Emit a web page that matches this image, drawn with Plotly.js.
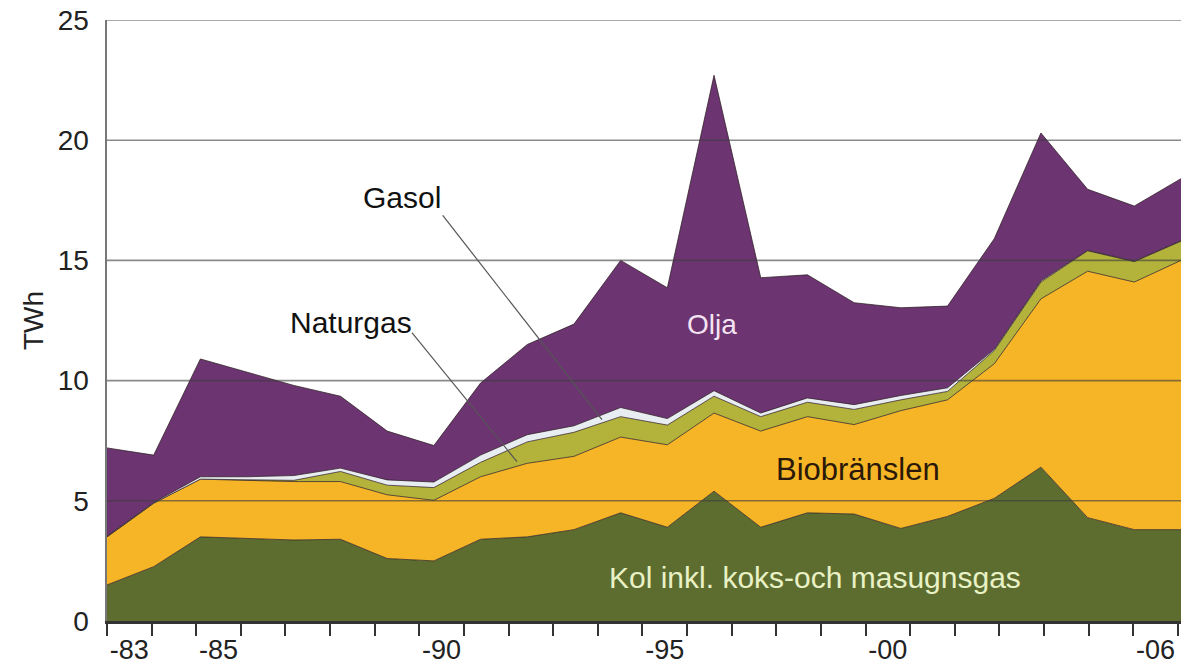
<!DOCTYPE html>
<html>
<head>
<meta charset="utf-8">
<script src="https://cdn.plot.ly/plotly-3.0.1.min.js"></script>
<style>html,body{margin:0;padding:0;background:#fff;}#chart{width:1181px;height:668px;}</style>
</head>
<body>
<div id="chart"></div>
<script>
// Years
const years = [1983,1984,1985,1986,1987,1988,1989,1990,1991,1992,1993,1994,1995,1996,1997,1998,1999,2000,2001,2002,2003,2004,2005,2006];
// TWh per fuel (stacked, bottom to top)
const kol       = [1.50,2.26,3.50,3.45,3.37,3.40,2.60,2.50,3.40,3.50,3.80,4.50,3.90,5.40,3.90,4.50,4.45,3.85,4.35,5.10,6.40,4.30,3.80,3.80];
const bio       = [2.00,2.64,2.40,2.40,2.43,2.40,2.65,2.52,2.60,3.06,3.05,3.15,3.43,3.25,4.00,4.00,3.72,4.90,4.85,5.60,7.00,10.25,10.30,11.20];
const naturgas  = [0.00,0.00,0.00,0.02,0.05,0.42,0.40,0.53,0.60,0.89,1.00,0.85,0.82,0.70,0.60,0.60,0.63,0.45,0.35,0.55,0.70,0.85,0.85,0.80];
const gasol     = [0.03,0.03,0.10,0.13,0.20,0.14,0.22,0.23,0.30,0.30,0.27,0.38,0.27,0.23,0.15,0.18,0.20,0.18,0.15,0.05,0.05,0.02,0.02,0.02];
const olja      = [3.67,1.97,4.90,4.35,3.75,2.99,2.03,1.52,3.00,3.75,4.23,6.12,5.44,13.12,5.63,5.12,4.24,3.65,3.40,4.60,6.15,2.54,2.29,2.58];

const tickLabelYears = [1983,1985,1990,1995,2000,2006];
const tickLabels = ['-83','-85','-90','-95','-00','-06'];
const yTicks = [0,5,10,15,20,25];

const tickStep = 0.9555; // category boundary spacing on the axis
const labelPos = tickLabelYears.map(y => 1983 + (y - 1983 + 0.5) * tickStep);

const outline = 'rgba(45,30,35,0.75)';
function area(name, vals, color) {
  return {x: years, y: vals, name: name, type: 'scatter', mode: 'lines',
          stackgroup: 'one', fillcolor: color,
          line: {color: outline, width: 1}, hoverinfo: 'x+y+name'};
}
const traces = [
  area('Kol inkl. koks-och masugnsgas', kol, '#5d6d2f'),
  area('Biobränslen', bio, '#f6b526'),
  area('Naturgas', naturgas, '#b3b23a'),
  area('Gasol', gasol, '#e8edf1'),
  area('Olja', olja, '#6c3572')
];

const font = 'Liberation Sans, Arial, Helvetica, sans-serif';
const shapes = yTicks.filter(v => v > 0).map(v => ({
  type: 'line', xref: 'paper', yref: 'y', x0: 0, x1: 1, y0: v, y1: v,
  layer: 'above', line: {color: 'rgba(60,60,60,0.6)', width: 1.6}
}));
// leader lines for labels
shapes.push({type:'line', xref:'x', yref:'y', x0:1990.19, y0:16.875, x1:1993.6, y1:8.375, layer:'above', line:{color:'#555', width:1.2}});
shapes.push({type:'line', xref:'x', yref:'y', x0:1989.53, y0:12.0, x1:1991.78, y1:6.625, layer:'above', line:{color:'#555', width:1.2}});

const annotations = [
  {text:'Gasol', x:1989.32, y:17.6, color:'#111', size:30},
  {text:'Naturgas', x:1988.22, y:12.4, color:'#111', size:30},
  {text:'Olja', x:1995.95, y:12.33, color:'#f4e4f2', size:28},
  {text:'Biobränslen', x:1999.08, y:6.3, color:'#2a1808', size:31},
  {text:'Kol inkl. koks-och masugnsgas', x:1998.16, y:1.83, color:'#e9f1c6', size:30}
].map(a => ({xref:'x', yref:'y', x:a.x, y:a.y, text:a.text, showarrow:false,
             xanchor:'center', yanchor:'middle',
             font:{family:font, size:a.size, color:a.color}}));

const layout = {
  width: 1181, height: 668,
  margin: {l: 107, r: 0, t: 20, b: 47},
  paper_bgcolor: '#ffffff', plot_bgcolor: '#ffffff',
  showlegend: false,
  font: {family: font, size: 28, color: '#222'},
  xaxis: {
    range: [1983, 2006], showgrid: false, zeroline: false,
    showline: true, linecolor: '#333', linewidth: 2.5,
    tickmode: 'array', tickvals: labelPos, ticktext: tickLabels,
    ticks: 'outside', ticklen: 3, tickcolor: 'rgba(0,0,0,0)',
    tickfont: {family: font, size: 27, color: '#222'},
    minor: {tickmode: 'linear', tick0: 1983, dtick: tickStep, ticks: 'outside',
            ticklen: 12, tickwidth: 2, tickcolor: '#333', showgrid: false}
  },
  yaxis: {
    range: [0, 25], showgrid: false, zeroline: false,
    showline: true, linecolor: '#777', linewidth: 2.5,
    tickmode: 'array', tickvals: yTicks,
    ticks: 'outside', ticklen: 10, tickcolor: 'rgba(0,0,0,0)',
    tickfont: {family: font, size: 28, color: '#222'},
    title: {text: 'TWh', standoff: 6, font: {family: font, size: 28, color: '#222'}}
  },
  shapes: shapes,
  annotations: annotations
};

Plotly.newPlot('chart', traces, layout, {staticPlot: true, displayModeBar: false});
</script>
</body>
</html>
